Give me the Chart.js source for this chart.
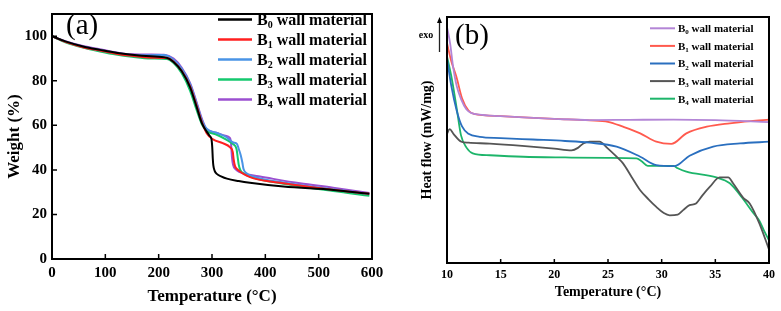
<!DOCTYPE html>
<html>
<head>
<meta charset="utf-8">
<script src="https://cdn.jsdelivr.net/npm/chart.js@4.4.1/dist/chart.umd.min.js"></script>
<style>
  html, body { margin: 0; padding: 0; background: #fff; }
  #wrap { position: relative; width: 781px; height: 311px; }
  #wrap canvas { position: absolute; top: 0; }
</style>
</head>
<body>
<div id="wrap">
  <canvas id="tga" width="390" height="311" style="left:0;width:390px;height:311px"></canvas>
  <canvas id="dsc" width="391" height="311" style="left:390px;width:391px;height:311px"></canvas>
</div>
<script>
const serif = '"Liberation Serif", "Times New Roman", serif';
const subs = ['0', '1', '2', '3', '4'];

// (a) TGA: [temperature °C, weight %]
const tgaB0 = [[0,100],[25,97.7],[60,95.3],[90,93.9],[120,92.6],[150,91.7],[185,91],[215,90.4],[228,88.5],[243,84.4],[259,77.1],[271,68.4],[281,61],[290,57.2],[296,55.2],[299,53.8],[300.5,50],[301.5,45],[302.5,42],[305,39.6],[309,38.2],[318,37],[328,36.1],[350,35],[371,34.2],[434,32.5],[528,31],[595,29.3]];
const tgaB1 = [[0,100],[25,97.5],[60,95],[90,93.6],[120,92.2],[150,91.2],[185,90.4],[215,90.2],[228,88.6],[243,84.5],[259,77.5],[271,69],[281,61.5],[290,56.5],[302,53.7],[320,52],[334,50.1],[339,48],[340.5,45],[343,41.8],[348,40.2],[353,39.2],[365,37.4],[378,36.2],[434,34],[527,31.1],[595,29.3]];
const tgaB2 = [[0,100],[25,97.6],[60,95.2],[90,93.8],[120,92.5],[150,91.6],[185,91.5],[210,91.6],[228,89.5],[243,85.5],[259,78.5],[271,70],[281,62.5],[290,58.5],[308,56.7],[325,55],[340,52.3],[347,51.6],[350,49.5],[354,46.5],[357,43.2],[359,40.5],[364,38.6],[378,37],[434,34.3],[527,31.3],[595,29.2]];
const tgaB3 = [[0,100],[25,97.3],[60,94.8],[90,93.2],[120,91.8],[150,90.8],[185,90],[215,89.8],[228,88],[243,83.5],[259,75.5],[271,67],[281,60.5],[290,57.5],[308,55.9],[325,53.8],[340,51.5],[346,49.4],[348,46],[350,42.5],[353,40],[360,38.3],[378,36.5],[434,33.8],[527,30.5],[595,28.4]];
const tgaB4 = [[0,100],[25,97.8],[60,95.5],[90,94.2],[120,92.8],[150,91.9],[185,91.8],[210,91.7],[228,90],[243,86],[259,79],[271,70.5],[281,63],[290,58.3],[308,56.7],[325,55.3],[333,54.5],[335.5,52.5],[336.5,49],[337.5,45.5],[339.5,42.3],[344,40.3],[352,39],[370,37.8],[390,37],[465,34],[527,32],[595,29.6]];

// (b) DSC: [temperature °C, relative heat flow]
const dscB0 = [[10,96],[10.3,89],[10.56,80],[10.9,72],[11.34,66.3],[11.8,62.5],[12.3,60.9],[13,60.3],[15,59.7],[17.1,59.2],[20,58.6],[23.3,58.1],[27,58.2],[31.1,58.3],[35,58.1],[40,57.3]];
const dscB1 = [[10,89.4],[10.4,82],[10.87,75.8],[11.4,67],[12,62],[12.5,60.6],[15,59.7],[20,58.6],[23.3,58],[25,57.4],[26.4,55.4],[28,52.7],[29.5,49.3],[30.9,48.4],[32.3,52.7],[34.2,55.4],[36.35,56.8],[38.3,57.7],[40,58.3]];
const dscB2 = [[10,83],[10.4,72],[10.9,62],[11.4,55.5],[12,52.5],[13.05,51.3],[15,50.8],[18,50.2],[21,49.6],[23.3,48.9],[25.8,47.3],[28,43.2],[29.5,39.8],[31.2,39.4],[32.6,43.6],[34.8,47.3],[37.3,48.6],[40,49.3]];
const dscB3 = [[10,52.5],[10.25,54.4],[10.6,52.5],[11.34,49.3],[12,48.9],[14,48.5],[17,47.6],[20,46.5],[21.6,45.8],[22.2,46.8],[22.7,48.6],[23.3,49.3],[24.2,49.3],[25,46.5],[25.8,43.2],[26.4,40.5],[27.2,35],[28,29.6],[28.8,25.8],[29.5,22.8],[30.2,20.3],[30.75,19.4],[31.5,19.7],[32,21.5],[32.6,23.5],[33.2,24.2],[33.8,27.5],[34.5,31],[35.4,34.8],[36.2,34.8],[36.65,32.4],[37.6,26.5],[38.2,24.2],[39.1,16.1],[40,5.5]];
const dscB4 = [[10,84],[10.4,76],[10.9,63],[11.3,52],[11.8,47],[12.4,44.6],[14,43.8],[17.1,43.2],[21,42.9],[25,42.7],[27.65,42.5],[28.1,41.5],[28.7,39.5],[31.1,39.5],[31.5,38.5],[32.3,37.1],[35.1,34.8],[36.35,32.4],[37.5,26.5],[38.5,20.5],[39.1,17.2],[39.5,13.5],[40,9.2]];

const tgaColors = ['#000000', '#ff1f1f', '#4a94e6', '#14c86e', '#9b4fd0'];
const dscColors = ['#b385d6', '#ff5a4e', '#2a6fbf', '#555555', '#1db56a'];

const toXY = arr => arr.map(([x, y]) => ({ x, y }));

// frame, inward ticks, panel tag, legend and exo arrow
const decor = {
  id: 'decor',
  afterDraw(chart, args, o) {
    const { ctx, chartArea: a, scales } = chart;
    ctx.save();
    ctx.strokeStyle = '#000';
    ctx.lineWidth = 2;
    ctx.strokeRect(a.left, a.top, a.right - a.left, a.bottom - a.top);
    ctx.lineWidth = 1.5;
    ctx.beginPath();
    scales.x.ticks.forEach(t => {
      const px = scales.x.getPixelForValue(t.value);
      ctx.moveTo(px, a.bottom); ctx.lineTo(px, a.bottom - o.tick);
    });
    if (scales.y.options.ticks.display) {
      scales.y.ticks.forEach(t => {
        const py = scales.y.getPixelForValue(t.value);
        ctx.moveTo(a.left, py); ctx.lineTo(a.left + o.tick, py);
      });
    }
    ctx.stroke();

    ctx.fillStyle = '#000';
    ctx.textBaseline = 'middle';
    ctx.textAlign = 'left';
    ctx.font = `${o.tagSize}px ${serif}`;
    ctx.fillText(o.tag, o.tagX, o.tagY);

    chart.data.datasets.forEach((ds, i) => {
      const y = o.legY + i * o.legDy;
      ctx.strokeStyle = ds.borderColor;
      ctx.lineWidth = o.legW;
      ctx.beginPath(); ctx.moveTo(o.legX, y); ctx.lineTo(o.legX + o.legLen, y); ctx.stroke();
      let x = o.legX + o.legLen + o.legGap;
      ctx.font = `bold ${o.legSize}px ${serif}`;
      ctx.fillText('B', x, y + 1);
      x += ctx.measureText('B').width;
      ctx.font = `bold ${Math.round(o.legSize * 0.62)}px ${serif}`;
      ctx.fillText(subs[i], x, y + 1 + o.legSize * 0.3);
      x += ctx.measureText(subs[i]).width;
      ctx.font = `bold ${o.legSize}px ${serif}`;
      ctx.fillText(' wall material', x, y + 1);
    });

    if (o.exoX) {
      ctx.fillStyle = '#000';
      ctx.font = `bold 10px ${serif}`;
      ctx.textAlign = 'center';
      ctx.fillText('exo', o.exoTextX, o.exoTextY);
      ctx.strokeStyle = '#222';
      ctx.lineWidth = 1.3;
      ctx.beginPath();
      ctx.moveTo(o.exoX, o.exoBottom);
      ctx.lineTo(o.exoX, o.exoTop + 3);
      ctx.stroke();
      ctx.beginPath();
      ctx.moveTo(o.exoX, o.exoTop - 1);
      ctx.lineTo(o.exoX - 2.5, o.exoTop + 5);
      ctx.lineTo(o.exoX + 2.5, o.exoTop + 5);
      ctx.closePath();
      ctx.fill();
    }
    ctx.restore();
  }
};

function makeSets(list, colors, width) {
  return list.map((arr, i) => ({
    label: `B${subs[i]} wall material`,
    data: toXY(arr),
    borderColor: colors[i],
    borderWidth: width,
    pointRadius: 0,
    fill: false,
    cubicInterpolationMode: 'monotone'
  }));
}

const bold = size => ({ family: serif, weight: 'bold', size });

new Chart(document.getElementById('tga'), {
  type: 'line',
  data: { datasets: makeSets([tgaB0, tgaB1, tgaB2, tgaB3, tgaB4], tgaColors, 2) },
  options: {
    responsive: false,
    animation: false,
    layout: { padding: { top: 7, right: 18, left: 0, bottom: 0 } },
    plugins: {
      legend: { display: false },
      tooltip: { enabled: false },
      decor: {
        tick: 5, tag: '(a)', tagSize: 29, tagX: 66, tagY: 26,
        legX: 218, legY: 19.5, legDy: 20, legLen: 34, legGap: 5, legW: 2.5, legSize: 16
      }
    },
    scales: {
      x: {
        type: 'linear', min: 0, max: 600,
        grid: { display: false, drawTicks: false }, border: { display: false },
        ticks: { stepSize: 100, color: '#000', font: bold(15), padding: 5, maxRotation: 0 },
        title: { display: true, text: 'Temperature (°C)', color: '#000', font: bold(17), padding: { top: 0, bottom: 4 } },
        afterFit: s => { s.height = 52; }
      },
      y: {
        min: 0, max: 110,
        grid: { display: false, drawTicks: false }, border: { display: false },
        ticks: { stepSize: 20, includeBounds: false, color: '#000', font: bold(15), padding: 5 },
        title: { display: true, text: 'Weight (%)', color: '#000', font: bold(17), padding: { top: 4, bottom: 0 } },
        afterFit: s => { s.width = 52; }
      }
    }
  },
  plugins: [decor]
});

new Chart(document.getElementById('dsc'), {
  type: 'line',
  data: { datasets: makeSets([dscB0, dscB1, dscB2, dscB3, dscB4], dscColors, 1.8) },
  options: {
    responsive: false,
    animation: false,
    layout: { padding: { top: 17, right: 12, left: 0, bottom: 0 } },
    plugins: {
      legend: { display: false },
      tooltip: { enabled: false },
      decor: {
        tick: 4, tag: '(b)', tagSize: 29, tagX: 65, tagY: 36,
        legX: 260, legY: 28.3, legDy: 17.6, legLen: 25, legGap: 3, legW: 2, legSize: 11,
        exoTextX: 36, exoTextY: 35, exoX: 49.5, exoTop: 18, exoBottom: 52
      }
    },
    scales: {
      x: {
        type: 'linear', min: 10, max: 40,
        grid: { display: false, drawTicks: false }, border: { display: false },
        ticks: { stepSize: 5, color: '#000', font: bold(12), padding: 5, maxRotation: 0 },
        title: { display: true, text: 'Temperature (°C)', color: '#000', font: bold(14), padding: { top: 0, bottom: 10 } },
        afterFit: s => { s.height = 48; }
      },
      y: {
        min: 0, max: 100,
        grid: { display: false, drawTicks: false }, border: { display: false },
        ticks: { display: false },
        title: { display: true, text: 'Heat flow (mW/mg)', color: '#000', font: bold(14), padding: { top: 29, bottom: 0 } },
        afterFit: s => { s.width = 57; }
      }
    }
  },
  plugins: [decor]
});
</script>
</body>
</html>
